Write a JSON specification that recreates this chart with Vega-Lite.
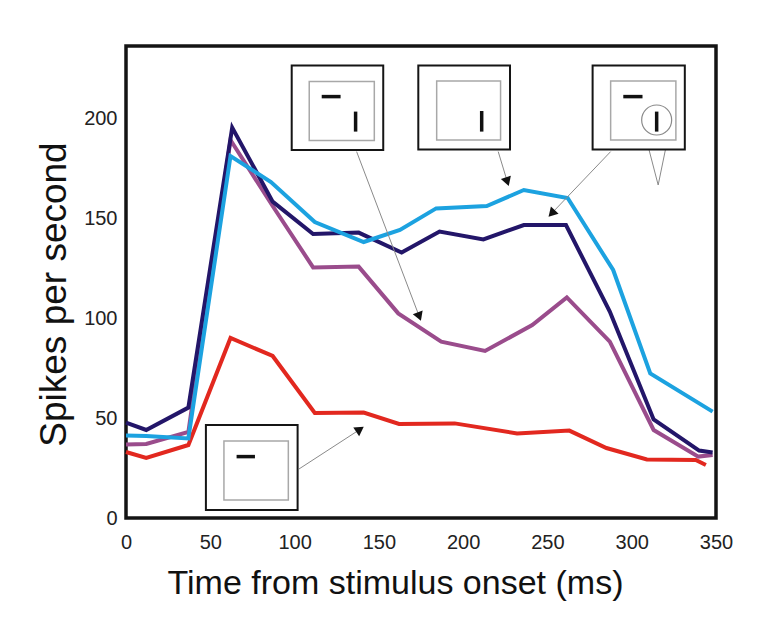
{
  "$schema": "https://vega.github.io/schema/vega-lite/v6.json",
  "width": 590,
  "height": 472,
  "autosize": {"type": "none"},
  "padding": {"left": 126, "top": 46, "right": 47, "bottom": 108},
  "background": "white",
  "config": {
    "font": "Liberation Sans",
    "view": {"stroke": "#141414", "strokeWidth": 3.5},
    "axis": {
      "domain": false,
      "ticks": false,
      "grid": false,
      "labelFlush": false,
      "labelFont": "Liberation Sans",
      "labelFontSize": 20,
      "labelColor": "#222222",
      "titleFont": "Liberation Sans",
      "titleFontSize": 34,
      "titleFontWeight": "normal",
      "titleColor": "#111111"
    }
  },
  "datasets": {
    "rates": [
      {"cond": "Distractor alone", "t": 0, "v": 33},
      {"cond": "Distractor alone", "t": 12, "v": 30},
      {"cond": "Distractor alone", "t": 37, "v": 36.5},
      {"cond": "Distractor alone", "t": 62, "v": 90},
      {"cond": "Distractor alone", "t": 87, "v": 81},
      {"cond": "Distractor alone", "t": 112, "v": 52.5},
      {"cond": "Distractor alone", "t": 141, "v": 52.7},
      {"cond": "Distractor alone", "t": 162, "v": 47},
      {"cond": "Distractor alone", "t": 195, "v": 47.3},
      {"cond": "Distractor alone", "t": 232, "v": 42.3},
      {"cond": "Distractor alone", "t": 263, "v": 43.7},
      {"cond": "Distractor alone", "t": 285, "v": 35},
      {"cond": "Distractor alone", "t": 309, "v": 29.3},
      {"cond": "Distractor alone", "t": 338, "v": 29},
      {"cond": "Distractor alone", "t": 344, "v": 26.5},

      {"cond": "Bar + distractor", "t": 0, "v": 36.8},
      {"cond": "Bar + distractor", "t": 12, "v": 37},
      {"cond": "Bar + distractor", "t": 37, "v": 43},
      {"cond": "Bar + distractor", "t": 62, "v": 189},
      {"cond": "Bar + distractor", "t": 87, "v": 156},
      {"cond": "Bar + distractor", "t": 111, "v": 125.3},
      {"cond": "Bar + distractor", "t": 138, "v": 125.7},
      {"cond": "Bar + distractor", "t": 161.5, "v": 102.3},
      {"cond": "Bar + distractor", "t": 187, "v": 88.2},
      {"cond": "Bar + distractor", "t": 213, "v": 83.5},
      {"cond": "Bar + distractor", "t": 241, "v": 96.5},
      {"cond": "Bar + distractor", "t": 261.5, "v": 110.3},
      {"cond": "Bar + distractor", "t": 287, "v": 88.2},
      {"cond": "Bar + distractor", "t": 313, "v": 44},
      {"cond": "Bar + distractor", "t": 339.5, "v": 30.7},
      {"cond": "Bar + distractor", "t": 348, "v": 31.5},

      {"cond": "Bar + distractor, attended", "t": 0, "v": 47.7},
      {"cond": "Bar + distractor, attended", "t": 12, "v": 44},
      {"cond": "Bar + distractor, attended", "t": 37, "v": 55.2},
      {"cond": "Bar + distractor, attended", "t": 63, "v": 195.2},
      {"cond": "Bar + distractor, attended", "t": 87, "v": 158.2},
      {"cond": "Bar + distractor, attended", "t": 111, "v": 142},
      {"cond": "Bar + distractor, attended", "t": 138, "v": 142.7},
      {"cond": "Bar + distractor, attended", "t": 163.5, "v": 132.7},
      {"cond": "Bar + distractor, attended", "t": 186, "v": 143.2},
      {"cond": "Bar + distractor, attended", "t": 212, "v": 139.3},
      {"cond": "Bar + distractor, attended", "t": 236, "v": 146.5},
      {"cond": "Bar + distractor, attended", "t": 261, "v": 146.5},
      {"cond": "Bar + distractor, attended", "t": 287, "v": 103.2},
      {"cond": "Bar + distractor, attended", "t": 313, "v": 49.3},
      {"cond": "Bar + distractor, attended", "t": 340, "v": 33.7},
      {"cond": "Bar + distractor, attended", "t": 348, "v": 32.7},

      {"cond": "Bar alone", "t": 0, "v": 41.2},
      {"cond": "Bar alone", "t": 12, "v": 41},
      {"cond": "Bar alone", "t": 37, "v": 39.8},
      {"cond": "Bar alone", "t": 62, "v": 181},
      {"cond": "Bar alone", "t": 86, "v": 168},
      {"cond": "Bar alone", "t": 112, "v": 148},
      {"cond": "Bar alone", "t": 141, "v": 138},
      {"cond": "Bar alone", "t": 162.5, "v": 144},
      {"cond": "Bar alone", "t": 184, "v": 154.8},
      {"cond": "Bar alone", "t": 214, "v": 156},
      {"cond": "Bar alone", "t": 236, "v": 164},
      {"cond": "Bar alone", "t": 262, "v": 160},
      {"cond": "Bar alone", "t": 289, "v": 124},
      {"cond": "Bar alone", "t": 311, "v": 72.3},
      {"cond": "Bar alone", "t": 348, "v": 53.2}
    ],
    "frames": [
      {"t": 98.3, "t2": 152.6, "v": 184, "v2": 226.2},
      {"t": 173.4, "t2": 227.8, "v": 184.3, "v2": 226.2},
      {"t": 276.8, "t2": 331.5, "v": 184.3, "v2": 226.2},
      {"t": 47.4, "t2": 101.8, "v": 4, "v2": 46.5}
    ],
    "screens": [
      {"t": 108.7, "t2": 147.3, "v": 188.7, "v2": 218.2},
      {"t": 184.3, "t2": 222.2, "v": 189, "v2": 218.5},
      {"t": 287.5, "t2": 326.2, "v": 189, "v2": 218.5},
      {"t": 58.1, "t2": 96.3, "v": 9, "v2": 38.5}
    ],
    "bars": [
      {"t": 116.1, "t2": 127.3, "v": 210.7, "v2": 210.7},
      {"t": 136.2, "t2": 136.2, "v": 193.2, "v2": 203.2},
      {"t": 211, "t2": 211, "v": 193.2, "v2": 203.5},
      {"t": 295, "t2": 306.4, "v": 210.7, "v2": 210.7},
      {"t": 314.8, "t2": 314.8, "v": 193.2, "v2": 203.2},
      {"t": 65.6, "t2": 76.5, "v": 30.7, "v2": 30.7}
    ],
    "leaders": [
      {"t": 136.8, "t2": 174, "v": 183.2, "v2": 100.7},
      {"t": 220.8, "t2": 226.2, "v": 183.2, "v2": 168.2},
      {"t": 287.5, "t2": 252.5, "v": 183.2, "v2": 152.3},
      {"t": 102.6, "t2": 138.8, "v": 24.5, "v2": 44.3}
    ],
    "cone": [
      {"t": 306.2, "t2": 315.7, "v": 197.3, "v2": 166.5},
      {"t": 323, "t2": 315.7, "v": 196.5, "v2": 166.5}
    ],
    "focus": [
      {"t": 314.8, "v": 199}
    ],
    "heads": [
      {"arrow": "a", "t": 174, "v": 100.7},
      {"arrow": "b", "t": 226.2, "v": 168.2},
      {"arrow": "c", "t": 252.5, "v": 152.3},
      {"arrow": "d", "t": 138.8, "v": 44.3}
    ]
  },
  "layer": [
    {
      "data": {"name": "rates"},
      "mark": {"type": "line", "strokeWidth": 4, "strokeJoin": "miter"},
      "encoding": {
        "x": {
          "field": "t",
          "type": "quantitative",
          "scale": {"domain": [0, 350], "nice": false, "zero": false},
          "axis": {
            "values": [0, 50, 100, 150, 200, 250, 300, 350],
            "labelPadding": 14,
            "title": "Time from stimulus onset (ms)",
            "titlePadding": 14,
            "titleX": 269
          }
        },
        "y": {
          "field": "v",
          "type": "quantitative",
          "scale": {"domain": [0, 236], "nice": false},
          "axis": {
            "values": [0, 50, 100, 150, 200],
            "labelPadding": 9,
            "title": "Spikes per second",
            "titleFontSize": 37,
            "titlePadding": 10,
            "titleY": 248
          }
        },
        "color": {
          "field": "cond",
          "type": "nominal",
          "scale": {
            "domain": ["Distractor alone", "Bar + distractor", "Bar + distractor, attended", "Bar alone"],
            "range": ["#e2281f", "#9a4c8c", "#231669", "#1ca2e0"]
          },
          "legend": null
        },
        "order": {"field": "t", "type": "quantitative"}
      }
    },
    {
      "data": {"name": "leaders"},
      "mark": {"type": "rule", "stroke": "#8a8a8a", "strokeWidth": 1},
      "encoding": {
        "x": {"field": "t", "type": "quantitative"},
        "x2": {"field": "t2"},
        "y": {"field": "v", "type": "quantitative"},
        "y2": {"field": "v2"}
      }
    },
    {
      "data": {"name": "cone"},
      "mark": {"type": "rule", "stroke": "#8a8a8a", "strokeWidth": 1},
      "encoding": {
        "x": {"field": "t", "type": "quantitative"},
        "x2": {"field": "t2"},
        "y": {"field": "v", "type": "quantitative"},
        "y2": {"field": "v2"}
      }
    },
    {
      "data": {"name": "frames"},
      "mark": {"type": "rect", "fill": "white", "stroke": "#151515", "strokeWidth": 2},
      "encoding": {
        "x": {"field": "t", "type": "quantitative"},
        "x2": {"field": "t2"},
        "y": {"field": "v", "type": "quantitative"},
        "y2": {"field": "v2"}
      }
    },
    {
      "data": {"name": "screens"},
      "mark": {"type": "rect", "fill": "white", "stroke": "#a8a8a8", "strokeWidth": 1.5},
      "encoding": {
        "x": {"field": "t", "type": "quantitative"},
        "x2": {"field": "t2"},
        "y": {"field": "v", "type": "quantitative"},
        "y2": {"field": "v2"}
      }
    },
    {
      "data": {"name": "focus"},
      "mark": {"type": "point", "shape": "circle", "size": 900, "filled": false, "stroke": "#8a8a8a", "strokeWidth": 1.2, "opacity": 1},
      "encoding": {
        "x": {"field": "t", "type": "quantitative"},
        "y": {"field": "v", "type": "quantitative"}
      }
    },
    {
      "data": {"name": "bars"},
      "mark": {"type": "rule", "stroke": "#111111", "strokeWidth": 3.5},
      "encoding": {
        "x": {"field": "t", "type": "quantitative"},
        "x2": {"field": "t2"},
        "y": {"field": "v", "type": "quantitative"},
        "y2": {"field": "v2"}
      }
    },
    {
      "data": {"name": "heads"},
      "transform": [{"filter": "datum.arrow === 'a'"}],
      "mark": {"type": "point", "shape": "triangle-up", "filled": true, "color": "#111111", "opacity": 1, "size": 110, "angle": 159.5},
      "encoding": {
        "x": {"field": "t", "type": "quantitative"},
        "y": {"field": "v", "type": "quantitative"}
      }
    },
    {
      "data": {"name": "heads"},
      "transform": [{"filter": "datum.arrow === 'b'"}],
      "mark": {"type": "point", "shape": "triangle-up", "filled": true, "color": "#111111", "opacity": 1, "size": 110, "angle": 161.5},
      "encoding": {
        "x": {"field": "t", "type": "quantitative"},
        "y": {"field": "v", "type": "quantitative"}
      }
    },
    {
      "data": {"name": "heads"},
      "transform": [{"filter": "datum.arrow === 'c'"}],
      "mark": {"type": "point", "shape": "triangle-up", "filled": true, "color": "#111111", "opacity": 1, "size": 110, "angle": 223},
      "encoding": {
        "x": {"field": "t", "type": "quantitative"},
        "y": {"field": "v", "type": "quantitative"}
      }
    },
    {
      "data": {"name": "heads"},
      "transform": [{"filter": "datum.arrow === 'd'"}],
      "mark": {"type": "point", "shape": "triangle-up", "filled": true, "color": "#111111", "opacity": 1, "size": 110, "angle": 56},
      "encoding": {
        "x": {"field": "t", "type": "quantitative"},
        "y": {"field": "v", "type": "quantitative"}
      }
    }
  ]
}
